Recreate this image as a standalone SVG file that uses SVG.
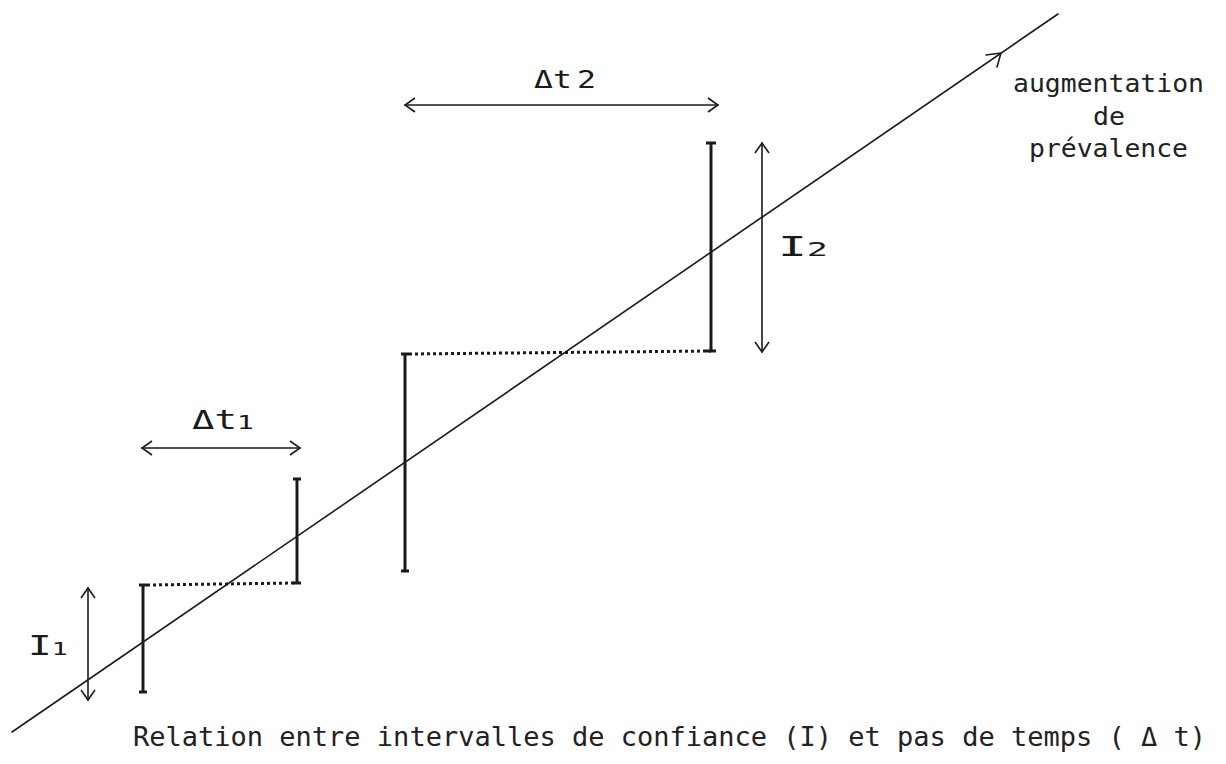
<svg xmlns="http://www.w3.org/2000/svg" width="1226" height="764" viewBox="0 0 1226 764">
<style>
.thin{stroke:#1a1a1a;stroke-width:1.6;fill:none;stroke-linecap:round;stroke-linejoin:round}
.bar{stroke:#1a1a1a;stroke-width:3;fill:none}
.cap{stroke:#1a1a1a;stroke-width:3;fill:none}
.dot{stroke:#1a1a1a;stroke-width:3;fill:none;stroke-dasharray:3 3}
.mono{font-family:"DejaVu Sans Mono","Liberation Mono",monospace;fill:#222222}
.hand{font-family:"DejaVu Sans Mono","Liberation Mono",monospace;fill:#1a1a1a}
</style>
<defs>
<marker id="chev" viewBox="0 0 12 16" refX="11" refY="8" markerWidth="12" markerHeight="16" markerUnits="userSpaceOnUse" orient="auto-start-reverse">
<path d="M1,1 L11,8 L1,15" fill="none" stroke="#1a1a1a" stroke-width="1.6"/>
</marker>
</defs>
<rect width="1226" height="764" fill="#ffffff"/>
<g id="axis">
<line class="thin" x1="12" y1="732" x2="1058" y2="14"/>
<path class="thin" d="M986,55 L1001,53 L997,67"/>
</g>
<g id="bar1">
<line class="bar" x1="143" y1="585" x2="143" y2="692"/>
<line class="cap" x1="139" y1="585" x2="147" y2="585"/>
<line class="cap" x1="139" y1="692" x2="147" y2="692"/>
</g>
<g id="bar2">
<line class="bar" x1="297" y1="479" x2="297" y2="583"/>
<line class="cap" x1="293" y1="479" x2="301" y2="479"/>
<line class="cap" x1="293" y1="583" x2="301" y2="583"/>
</g>
<g id="bar3">
<line class="bar" x1="405" y1="354" x2="405" y2="571"/>
<line class="cap" x1="401" y1="354" x2="409" y2="354"/>
<line class="cap" x1="401" y1="571" x2="409" y2="571"/>
</g>
<g id="bar4">
<line class="bar" x1="711" y1="143" x2="711" y2="351"/>
<line class="cap" x1="706" y1="143" x2="716" y2="143"/>
<line class="cap" x1="706" y1="351" x2="716" y2="351"/>
</g>
<g id="connectors">
<line class="dot" x1="147" y1="585" x2="297" y2="583"/>
<line class="dot" x1="409" y1="354" x2="711" y2="351"/>
<line class="thin" x1="88" y1="588" x2="88" y2="700" marker-start="url(#chev)" marker-end="url(#chev)"/>
<line class="thin" x1="142" y1="448" x2="300" y2="448" marker-start="url(#chev)" marker-end="url(#chev)"/>
<line class="thin" x1="405" y1="105" x2="718" y2="105" marker-start="url(#chev)" marker-end="url(#chev)"/>
<line class="thin" x1="762" y1="143" x2="762" y2="352" marker-start="url(#chev)" marker-end="url(#chev)"/>
</g>
<g id="labels">
<text class="hand" x="28" y="655" font-size="26" textLength="40" lengthAdjust="spacingAndGlyphs">I<tspan font-size="18">1</tspan></text>
<text class="hand" x="192" y="429" font-size="26" textLength="62" lengthAdjust="spacingAndGlyphs">Δt<tspan font-size="20">1</tspan></text>
<text class="hand" x="534" y="88" font-size="24" textLength="62" lengthAdjust="spacingAndGlyphs">Δt<tspan dx="4" font-size="24">2</tspan></text>
<text class="hand" x="778" y="256" font-size="26" textLength="50" lengthAdjust="spacingAndGlyphs">I<tspan font-size="19">2</tspan></text>
<text class="mono" x="1013" y="92" font-size="25" textLength="191" lengthAdjust="spacingAndGlyphs">augmentation</text>
<text class="mono" x="1093" y="125" font-size="25" textLength="32" lengthAdjust="spacingAndGlyphs">de</text>
<text class="mono" x="1029" y="157" font-size="25" textLength="159" lengthAdjust="spacingAndGlyphs">prévalence</text>
<text class="mono" x="133" y="746" font-size="26" textLength="1073" lengthAdjust="spacingAndGlyphs">Relation entre intervalles de confiance (I) et pas de temps ( Δ t)</text>
</g>
</svg>
